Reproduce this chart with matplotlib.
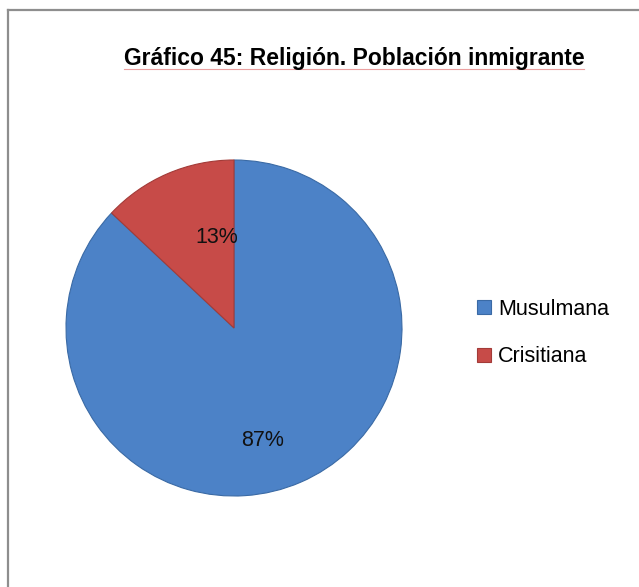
import matplotlib
matplotlib.use("Agg")
import matplotlib.pyplot as plt
from matplotlib.lines import Line2D

categories = ["Musulmana", "Crisitiana"]
values = [87, 13]
colors = ["#4C82C7", "#C74B48"]
edge_colors = ["#3A6AA5", "#A33B38"]
title = "Gráfico 45: Religión. Población inmigrante"

W, H = 639, 587
fig = plt.figure(figsize=(W / 100, H / 100), dpi=100)
fig.patch.set_facecolor("white")

# border (top and left visible)
fig.add_artist(Line2D([8 / W, 1], [1 - 10 / H, 1 - 10 / H], color="#8E8E8E", lw=1.6, transform=fig.transFigure))
fig.add_artist(Line2D([8 / W, 8 / W], [1 - 10 / H, 0], color="#8E8E8E", lw=1.6, transform=fig.transFigure))

cx, cy, r = 234, 328, 168
ax = fig.add_axes([(cx - r) / W, (H - cy - r) / H, 2 * r / W, 2 * r / H])
wedges, texts, autotexts = ax.pie(
    values, colors=colors, startangle=90, counterclock=False,
    autopct=lambda p: f"{p:.0f}%", pctdistance=0.6,
    wedgeprops=dict(linewidth=1.2, edgecolor="white"),
    textprops=dict(fontsize=15.5, color="#111111", family="Liberation Sans"),
)
for w, ec in zip(wedges, edge_colors):
    w.set_edgecolor(ec)
    w.set_linewidth(0.8)
label_pos = [(0.17, -0.67), (-0.10, 0.54)]
for t, pos in zip(autotexts, label_pos):
    t.set_position(pos)
ax.set_xlim(-1, 1)
ax.set_ylim(-1, 1)

t = fig.text(354 / W, 1 - 59 / H, title, ha="center", va="center",
             fontsize=16.5, fontweight="bold", family="Liberation Sans", color="black")
fig.canvas.draw()
bb = t.get_window_extent()
fig.add_artist(Line2D([bb.x0 / W, bb.x1 / W], [(H - 69) / H, (H - 69) / H],
                      color="#EBA0A0", lw=0.8, transform=fig.transFigure))

handles = [plt.Rectangle((0, 0), 1, 1, facecolor=c, edgecolor=e, lw=0.8) for c, e in zip(colors, edge_colors)]
fig.legend(handles, categories, loc="center left", bbox_to_anchor=(458 / W, 1 - 333 / H),
           frameon=False, handlelength=0.65, handleheight=0.65,
           handletextpad=0.3, labelspacing=1.25, prop=dict(family="Liberation Sans", size=15.5))

fig.savefig("out.png", dpi=100, facecolor="white")
